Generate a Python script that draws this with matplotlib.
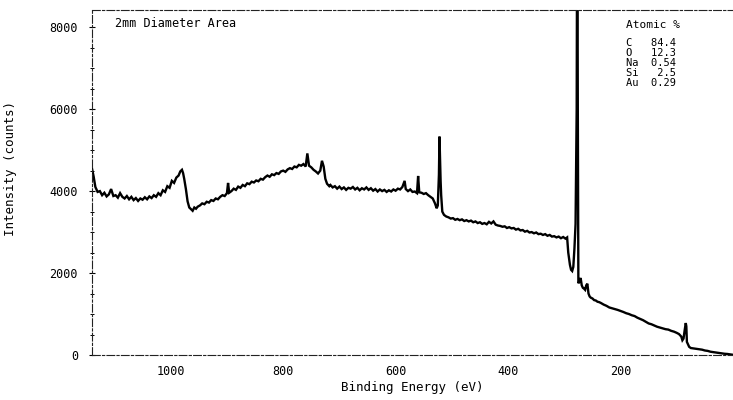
import matplotlib
matplotlib.use("Agg")
import matplotlib.pyplot as plt
import numpy as np

# XPS survey (binding energy eV, counts)
be_left = [1140, 1137, 1134, 1130, 1126, 1122, 1118, 1114, 1110, 1106, 1102, 1098,
           1094, 1090, 1086, 1082, 1078, 1074, 1070, 1066, 1062, 1058, 1054, 1050,
           1046, 1042, 1038, 1034, 1030, 1026, 1022, 1018, 1014, 1010, 1006, 1002,
           998, 994, 990, 986, 983, 980, 978, 976, 973, 970, 967, 964, 961, 958,
           955, 952]
counts_left = [4550, 4350, 4100, 3980, 4000, 3900, 3960, 3870, 3920, 4050, 3880, 3900,
               3840, 3950, 3860, 3820, 3880, 3800, 3860, 3780, 3830, 3760, 3820, 3790,
               3850, 3800, 3870, 3830, 3900, 3860, 3950, 3900, 4020, 3980, 4120, 4080,
               4250, 4200, 4330, 4380, 4480, 4520, 4440, 4300, 4050, 3750, 3600, 3560,
               3520, 3600, 3570, 3620]

be_rise = [948, 944, 940, 936, 932, 928, 924, 920, 916, 912, 908, 904, 900, 898,
           896, 892, 888, 884, 880, 876, 872, 868, 864, 860, 856, 852, 848, 844,
           840, 836, 832, 828, 824, 820, 816, 812, 808, 804, 800, 796, 792, 788,
           784, 780, 776, 772, 768, 764, 760, 757, 754, 750, 746, 742, 738, 734,
           731, 728, 725, 722, 718]
counts_rise = [3650, 3700, 3680, 3740, 3720, 3780, 3760, 3820, 3800, 3860, 3900, 3880,
               3950, 4200, 3960, 4000, 4060, 4030, 4110, 4080, 4150, 4120, 4190, 4170,
               4230, 4210, 4260, 4240, 4300, 4280, 4340, 4380, 4350, 4410, 4390, 4440,
               4420, 4480, 4500, 4470, 4530, 4560, 4540, 4600, 4580, 4640, 4620, 4660,
               4600, 4920, 4620, 4580, 4520, 4480, 4430, 4500, 4740, 4600, 4300, 4180,
               4120]

be_mid = [716, 712, 708, 704, 700, 696, 692, 688, 684, 680, 676, 672, 668, 664,
          660, 656, 652, 648, 644, 640, 636, 632, 628, 624, 620, 616, 612, 608,
          604, 600, 596, 592, 588, 584, 582, 578, 574, 570, 566, 562, 560, 558,
          554, 550, 546, 542, 538, 534, 530, 527, 525, 523, 522, 521, 520, 519,
          517, 514, 510, 506, 502, 498, 494, 490, 486, 482, 478, 474, 470, 466,
          462, 458, 454, 450, 446, 442, 438, 434, 430, 426, 422, 418, 414, 410,
          406, 402, 398, 394, 390, 386, 382, 378, 374, 370, 366, 362, 358, 354,
          350, 346, 342, 338, 334, 330, 326, 322, 318, 314, 310, 306, 302, 298, 295]
counts_mid = [4150, 4090, 4120, 4060, 4110, 4050, 4090, 4030, 4080, 4060, 4100, 4040,
              4080, 4020, 4070, 4040, 4090, 4030, 4070, 4010, 4050, 3990, 4040, 4000,
              4030, 3980, 4020, 3990, 4040, 4010, 4060, 4040, 4100, 4250, 4050, 4000,
              4040, 3980, 3990, 3950, 4370, 3970, 3960, 3930, 3950, 3900, 3860, 3820,
              3700, 3580, 3650, 4400, 5330, 4800, 4250, 3900, 3500, 3420, 3380, 3360,
              3330, 3340, 3300, 3320, 3290, 3310, 3270, 3290, 3260, 3280, 3240, 3260,
              3220, 3240, 3200, 3220, 3190, 3250, 3210, 3260, 3180, 3160, 3150, 3130,
              3140, 3100, 3120, 3090, 3100, 3060, 3080, 3040, 3050, 3010, 3030, 2990,
              3000, 2970, 2990, 2950, 2960, 2930, 2950, 2910, 2930, 2890, 2900, 2870,
              2890, 2850, 2880, 2840, 2870]

be_right = [293, 290, 288, 286, 284, 282, 280, 278, 277, 276, 275, 273, 271, 269,
            267, 265, 263, 261, 259, 257, 255, 253, 250, 247, 244, 241, 238, 235,
            230, 225, 220, 215, 210, 205, 200, 195, 190, 185, 180, 175, 170, 165,
            160, 155, 150, 145, 140, 135, 130, 125, 120, 115, 110, 105, 100, 96,
            92, 90, 88, 86, 84, 83, 82, 80, 78, 75, 70, 65, 60, 55, 50, 45, 40,
            35, 30, 25, 20, 15, 10, 5, 0]
counts_right = [2500, 2200, 2080, 2050, 2150, 2600, 3200, 6000, 12000, 6000, 1750, 1800,
                1880, 1700, 1640, 1620, 1590, 1700, 1740, 1500, 1430, 1400, 1380, 1340,
                1330, 1300, 1290, 1270, 1230, 1200, 1160, 1140, 1120, 1100, 1075, 1050,
                1020, 1000, 970, 950, 910, 880, 850, 810, 770, 750, 720, 690, 670, 650,
                630, 620, 590, 570, 540, 510, 450, 360, 400, 600, 780, 700, 320, 260,
                200, 170, 160, 150, 140, 130, 110, 100, 80, 70, 60, 50, 40, 30, 25, 15, 5]

atomic_elements = ["C", "O", "Na", "Si", "Au"]
atomic_values = ["84.4", "12.3", "0.54", "2.5", "0.29"]

be = np.array(be_left + be_rise + be_mid + be_right)
counts = np.array(counts_left + counts_rise + counts_mid + counts_right)

mono = "DejaVu Sans Mono"
plt.rcParams["font.family"] = mono

fig = plt.figure(figsize=(7.33, 4.0), dpi=100)
ax = fig.add_axes([0.1255, 0.1125, 0.8745, 0.8625])

ax.plot(be, counts, color="black", lw=1.7, solid_joinstyle="miter")

ax.set_xlim(1140, 0)
ax.set_ylim(0, 8420)
ax.set_xticks([1000, 800, 600, 400, 200])
ax.set_yticks([0, 2000, 4000, 6000, 8000])
ax.set_yticks(np.arange(0, 8500, 500), minor=True)
ax.tick_params(axis="x", length=0, pad=7, labelsize=8.5)
ax.tick_params(axis="y", which="major", direction="inout", length=4, width=0.8,
               pad=8, labelsize=8.5)
ax.tick_params(axis="y", which="minor", direction="inout", length=3, width=0.7)

for side in ["top", "left", "bottom"]:
    ax.spines[side].set_linewidth(0.8)
    ax.spines[side].set_linestyle((0, (7, 2, 2, 2)))
    ax.spines[side].set_color("#222222")
ax.spines["right"].set_visible(False)

ax.set_xlabel("Binding Energy (eV)", fontsize=9, labelpad=2)
ax.set_ylabel("Intensity (counts)", fontsize=9)
ax.yaxis.set_label_coords(-0.117, 0.54)

ax.text(0.036, 0.962, "2mm Diameter Area", transform=ax.transAxes,
        fontsize=8.5, ha="left", va="center")
ax.text(0.833, 0.957, "Atomic %", transform=ax.transAxes,
        fontsize=8, ha="left", va="center")
for i, (el, val) in enumerate(zip(atomic_elements, atomic_values)):
    ax.text(0.833, 0.904 - i * 0.029, f"{el:<3} {val:>4}", transform=ax.transAxes,
            fontsize=7.5, ha="left", va="center")

fig.savefig("out.png", dpi=100)
